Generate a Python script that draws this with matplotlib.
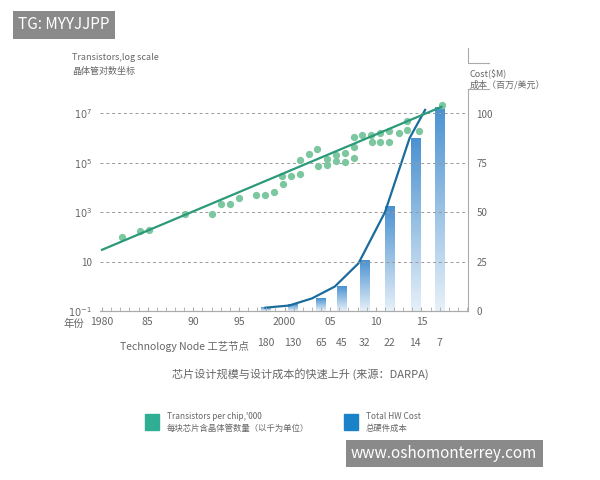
import numpy as np
import matplotlib
matplotlib.use("Agg")
import matplotlib.pyplot as plt
from matplotlib.colors import LinearSegmentedColormap

plt.rcParams["font.family"] = ["Noto Sans CJK SC", "DejaVu Sans"]

# transistor dots: (year, log10 transistors)
dot_years = [1982.2, 1984.2, 1985.2, 1989.1, 1992.0, 1993.0, 1994.0, 1995.0, 1996.9,
             1997.9, 1998.8, 1999.7, 1999.8, 2000.7, 2001.7, 2001.7, 2002.7, 2003.6,
             2003.7, 2004.7, 2004.7, 2005.6, 2005.6, 2006.6, 2006.6, 2007.6, 2007.6,
             2007.6, 2008.5, 2009.5, 2009.6, 2010.5, 2010.5, 2011.4, 2011.4, 2012.5,
             2013.4, 2013.4, 2014.7, 2017.2]
dot_logs = [1.99, 2.26, 2.29, 2.92, 2.94, 3.34, 3.34, 3.57, 3.71, 3.68, 3.82, 4.45,
            4.16, 4.45, 4.56, 5.13, 5.37, 5.58, 4.86, 5.17, 4.93, 5.33, 5.06, 5.40,
            5.04, 6.05, 5.64, 5.18, 6.13, 6.13, 5.83, 6.19, 5.83, 6.28, 5.86, 6.19,
            6.71, 6.35, 6.31, 7.34]
trend_years = [1980.0, 2017.2]
trend_logs = [1.48, 7.27]

# cost bars by technology node
node_labels = ["180", "130", "65", "45", "32", "22", "14", "7"]
node_years = [1997.9, 2000.9, 2004.0, 2006.2, 2008.8, 2011.5, 2014.3, 2017.0]
node_cost = [1.7, 3.3, 6.4, 12.5, 25.8, 52.8, 87.3, 103.0]

cost_years = [1997.9, 2000.5, 2003.0, 2005.5, 2008.1, 2011.0, 2013.7, 2015.4]
cost_vals = [1.7, 2.8, 6.4, 12.4, 24.2, 50.1, 87.7, 102.0]

year_ticks = [1980, 1985, 1990, 1995, 2000, 2005, 2010, 2015]
year_labels = ["1980", "85", "90", "95", "2000", "05", "10", "15"]

GRAY = "#666666"
fig = plt.figure(figsize=(6, 4.8), dpi=100)
ax = fig.add_axes([0.167, 0.352, 0.613, 0.463])
ax2 = ax.twinx()

ax.set_yscale("log")
ax.set_ylim(10 ** -1, 10 ** 8.0)
ax.set_xlim(1979.8, 2020.1)

# gradient bars, light at the bottom, darker at the top
cmap = LinearSegmentedColormap.from_list("b", ["#e6f0f8", "#4b92d1"])
grad = np.linspace(1, 0, 100).reshape(-1, 1)
for x, h in zip(node_years, node_cost):
    ax2.imshow(grad, cmap=cmap, aspect="auto",
               extent=(x - 0.5, x + 0.5, 0, h), vmin=0, vmax=1, zorder=1)
ax2.set_xlim(1979.8, 2020.1)
ax2.set_ylim(0, 112.7)

for v in [10 ** 1, 10 ** 3, 10 ** 5, 10 ** 7]:
    ax.axhline(v, color="#999999", ls=(0, (3, 3)), lw=0.7, zorder=0)

ax.scatter(dot_years, [10 ** v for v in dot_logs], s=18, color="#7cc7a0", zorder=3)
ax.plot(trend_years, [10 ** v for v in trend_logs], color="#2b9a78", lw=1.6, zorder=4)
ax2.plot(cost_years, cost_vals, color="#1b6c9c", lw=1.6, zorder=5)

ax.set_zorder(ax2.get_zorder() + 1)
ax.patch.set_visible(False)

ax.set_yticks([1e-1, 1e1, 1e3, 1e5, 1e7])
ax.set_yticklabels(["$10^{-1}$", "10", "$10^3$", "$10^5$", "$10^7$"], fontsize=7, color=GRAY)
ax.set_yticks([], minor=True)
ax.tick_params(axis="y", length=0, pad=6)
ax2.set_yticks([0, 25, 50, 75, 100])
ax2.set_yticklabels(["0", "25", "50", "75", "100"], fontsize=7, color=GRAY)
ax2.tick_params(axis="y", length=0, pad=6)

ax.set_xticks(range(1980, 2021), minor=True)
ax.set_xticks(year_ticks)
ax.set_xticklabels(year_labels, fontsize=7.5, color=GRAY)
ax.tick_params(axis="x", which="both", direction="in", length=3, color="#aaaaaa", pad=4)

for a in (ax, ax2):
    for s in ("top", "left"):
        a.spines[s].set_visible(False)
    a.spines["bottom"].set_color("#aaaaaa")
    a.spines["right"].set_color("#aaaaaa")
ax.spines["right"].set_visible(False)

fig.text(0.105, 0.326, "年份", fontsize=7.5, color=GRAY, va="center")
fig.text(0.2, 0.278, "Technology Node 工艺节点", fontsize=7.5, color=GRAY, va="center")
for x, lab in zip(node_years, node_labels):
    ax.text(x, -0.145, lab, transform=ax.get_xaxis_transform(), fontsize=7.5,
            color=GRAY, ha="center", va="center")

fig.text(0.12, 0.875, "Transistors,log scale", fontsize=6.5, color=GRAY)
fig.text(0.12, 0.845, "晶体管对数坐标", fontsize=6.5, color=GRAY)
fig.text(0.783, 0.84, "Cost($M)", fontsize=6.5, color=GRAY)
fig.text(0.783, 0.818, "成本（百万/美元）", fontsize=6.5, color=GRAY)
fig.add_artist(plt.Line2D([0.78, 0.78, 0.815], [0.9, 0.868, 0.868],
                          color="#aaaaaa", lw=0.8))
fig.add_artist(plt.Line2D([0.78, 0.815], [0.815, 0.815], color="#aaaaaa", lw=0.8))

fig.text(0.5, 0.213, "芯片设计规模与设计成本的快速上升 (来源：DARPA)", fontsize=8,
         color=GRAY, ha="center")

fig.patches.append(plt.Rectangle((0.242, 0.104), 0.023, 0.034, color="#2fae94",
                                 transform=fig.transFigure))
fig.text(0.278, 0.132, "Transistors per chip,'000", fontsize=6, color=GRAY, va="center")
fig.text(0.278, 0.108, "每块芯片含晶体管数量（以千为单位）", fontsize=6, color=GRAY, va="center")
fig.patches.append(plt.Rectangle((0.574, 0.104), 0.023, 0.034, color="#1a82c8",
                                 transform=fig.transFigure))
fig.text(0.61, 0.132, "Total HW Cost", fontsize=6, color=GRAY, va="center")
fig.text(0.61, 0.108, "总硬件成本", fontsize=6, color=GRAY, va="center")

fig.text(0.03, 0.948, "TG: MYYJJPP", fontsize=11, color="white", va="center",
         bbox=dict(boxstyle="square,pad=0.35", fc="#8a8a8a", ec="none"))
fig.text(0.585, 0.055, "www.oshomonterrey.com", fontsize=11, color="white", va="center",
         bbox=dict(boxstyle="square,pad=0.35", fc="#8a8a8a", ec="none"))

fig.savefig("out.png", dpi=100)
